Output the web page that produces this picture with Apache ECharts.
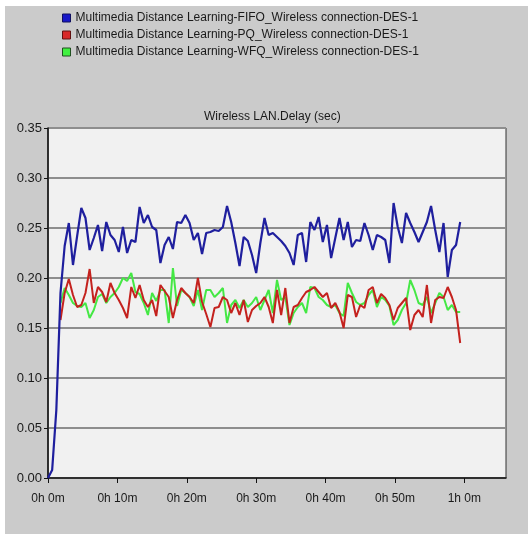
<!DOCTYPE html>
<html>
<head>
<meta charset="utf-8">
<script src="https://cdn.jsdelivr.net/npm/echarts@6/dist/echarts.min.js"></script>
<style>
  html, body { margin: 0; padding: 0; background: #fff; }
  #chart { width: 528px; height: 534px; }
</style>
</head>
<body>
<div id="chart"></div>
<script>
// samples every 36 s (0.6 min)
const STEP_MIN = 0.6
const xTicks = [0, 10, 20, 30, 40, 50, 60]
const seriesNames = [
  'Multimedia Distance Learning-FIFO_Wireless connection-DES-1',
  'Multimedia Distance Learning-PQ_Wireless connection-DES-1',
  'Multimedia Distance Learning-WFQ_Wireless connection-DES-1'
]

const fifo = [
  0.000, 0.008, 0.068, 0.185, 0.232, 0.255, 0.213, 0.242, 0.270, 0.260,
  0.228, 0.240, 0.253, 0.227, 0.256, 0.243, 0.238, 0.226, 0.251, 0.225,
  0.238, 0.236, 0.271, 0.255, 0.263, 0.251, 0.248, 0.215, 0.233, 0.241,
  0.229, 0.256, 0.255, 0.263, 0.255, 0.238, 0.245, 0.224, 0.245, 0.246,
  0.248, 0.247, 0.251, 0.272, 0.256, 0.235, 0.212, 0.241, 0.237, 0.223,
  0.205, 0.235, 0.260, 0.243, 0.245, 0.241, 0.237, 0.232, 0.225, 0.213,
  0.243, 0.245, 0.216, 0.256, 0.248, 0.261, 0.236, 0.253, 0.220, 0.240,
  0.260, 0.238, 0.256, 0.231, 0.238, 0.237, 0.255, 0.243, 0.228, 0.243,
  0.241, 0.238, 0.215, 0.275, 0.251, 0.235, 0.265, 0.255, 0.246, 0.236,
  0.246, 0.256, 0.272, 0.248, 0.226, 0.255, 0.201, 0.228, 0.233, 0.256
]

const pq = [
  null, null, null, 0.158, 0.185, 0.199, 0.183, 0.171, 0.173, 0.185,
  0.209, 0.175, 0.191, 0.186, 0.176, 0.195, 0.185, 0.178, 0.170, 0.160,
  0.191, 0.180, 0.193, 0.178, 0.171, 0.178, 0.162, 0.193, 0.187, 0.181,
  0.160, 0.178, 0.190, 0.185, 0.181, 0.175, 0.200, 0.176, 0.164, 0.151,
  0.170, 0.171, 0.181, 0.178, 0.165, 0.175, 0.163, 0.178, 0.156, 0.168,
  0.172, 0.175, 0.181, 0.171, 0.155, 0.188, 0.163, 0.190, 0.155, 0.171,
  0.173, 0.180, 0.186, 0.188, 0.191, 0.186, 0.181, 0.185, 0.170, 0.175,
  0.166, 0.150, 0.183, 0.181, 0.161, 0.173, 0.170, 0.188, 0.191, 0.175,
  0.184, 0.180, 0.173, 0.158, 0.170, 0.175, 0.180, 0.148, 0.163, 0.168,
  0.161, 0.193, 0.155, 0.178, 0.181, 0.180, 0.191, 0.181, 0.168, 0.135
]

const wfq = [
  null, null, null, 0.175, 0.190, 0.183, 0.175, 0.172, 0.171, 0.175,
  0.160, 0.168, 0.181, 0.184, 0.175, 0.181, 0.185, 0.191, 0.200, 0.197,
  0.205, 0.186, 0.184, 0.175, 0.163, 0.185, 0.177, 0.188, 0.188, 0.155,
  0.210, 0.172, 0.188, 0.185, 0.181, 0.172, 0.188, 0.168, 0.188, 0.188,
  0.181, 0.185, 0.190, 0.155, 0.173, 0.178, 0.170, 0.178, 0.171, 0.175,
  0.181, 0.168, 0.178, 0.188, 0.165, 0.198, 0.178, 0.181, 0.153, 0.165,
  0.171, 0.175, 0.165, 0.191, 0.190, 0.181, 0.178, 0.173, 0.171, 0.173,
  0.165, 0.162, 0.195, 0.185, 0.176, 0.173, 0.175, 0.183, 0.188, 0.171,
  0.181, 0.178, 0.172, 0.153, 0.158, 0.168, 0.175, 0.198, 0.188, 0.175,
  0.173, 0.181, 0.165, 0.175, 0.185, 0.181, 0.168, 0.173, 0.166, 0.166
]

const FONT = "'Liberation Sans Narrow', 'Arial Narrow', 'Liberation Sans', sans-serif"
const toPairs = arr => arr.map((v, i) => [i * STEP_MIN, v])
const fmtTime = v => `${Math.floor(v / 60)}h ${v % 60}m`

const chart = echarts.init(document.getElementById('chart'), null, { renderer: 'canvas' })

const options = {
  backgroundColor: '#ffffff',
  animation: false,
  graphic: [{
    type: 'rect',
    z: -10,
    shape: { x: 5, y: 6, width: 523, height: 528 },
    style: { fill: '#cbcbcb' }
  }],
  title: {
    text: 'Wireless LAN.Delay (sec)',
    left: 199,
    top: 106,
    textStyle: { fontFamily: FONT, fontSize: 12, fontWeight: 'normal', color: '#1a1a1a' }
  },
  legend: {
    orient: 'vertical',
    left: 57,
    top: 6,
    itemWidth: 8,
    itemHeight: 8,
    itemGap: 3,
    icon: 'rect',
    textStyle: { fontFamily: FONT, fontSize: 12, color: '#1a1a1a', lineHeight: 14 },
    data: [
      { name: seriesNames[0], itemStyle: { color: '#1818c8', borderColor: '#101060', borderWidth: 1 } },
      { name: seriesNames[1], itemStyle: { color: '#d82828', borderColor: '#601010', borderWidth: 1 } },
      { name: seriesNames[2], itemStyle: { color: '#40f040', borderColor: '#205020', borderWidth: 1 } }
    ]
  },
  grid: {
    left: 48,
    top: 128,
    right: 22,
    bottom: 56,
    show: true,
    backgroundColor: '#f1f1f1',
    borderColor: '#333333',
    borderWidth: 1
  },
  xAxis: {
    type: 'value',
    min: 0,
    max: 66,
    interval: 10,
    splitLine: { show: false },
    axisLine: { lineStyle: { color: '#111', width: 1.5 } },
    axisTick: { show: true, length: 5, customValues: xTicks, lineStyle: { color: '#111' } },
    axisLabel: {
      customValues: xTicks,
      formatter: fmtTime,
      margin: 15,
      fontFamily: FONT,
      fontSize: 12,
      color: '#1a1a1a'
    }
  },
  yAxis: {
    type: 'value',
    min: 0,
    max: 0.35,
    interval: 0.05,
    axisLine: { show: true, lineStyle: { color: '#111', width: 1.5 } },
    axisTick: { show: true, length: 4, lineStyle: { color: '#111' } },
    splitLine: { lineStyle: { color: '#8e8e8e', width: 2 } },
    axisLabel: {
      formatter: v => v.toFixed(2),
      margin: 6,
      fontFamily: FONT,
      fontSize: 13,
      color: '#1a1a1a'
    }
  },
  series: [
    {
      name: seriesNames[0],
      type: 'line',
      data: toPairs(fifo),
      showSymbol: false,
      z: 4,
      lineStyle: { color: '#1f1f9e', width: 2.2 },
      itemStyle: { color: '#1f1f9e' }
    },
    {
      name: seriesNames[1],
      type: 'line',
      data: toPairs(pq),
      showSymbol: false,
      z: 3,
      lineStyle: { color: '#c4221e', width: 2 },
      itemStyle: { color: '#c4221e' }
    },
    {
      name: seriesNames[2],
      type: 'line',
      data: toPairs(wfq),
      showSymbol: false,
      z: 2,
      lineStyle: { color: '#44e844', width: 2 },
      itemStyle: { color: '#44e844' }
    }
  ]
}
chart.setOption(options)
</script>
</body>
</html>
